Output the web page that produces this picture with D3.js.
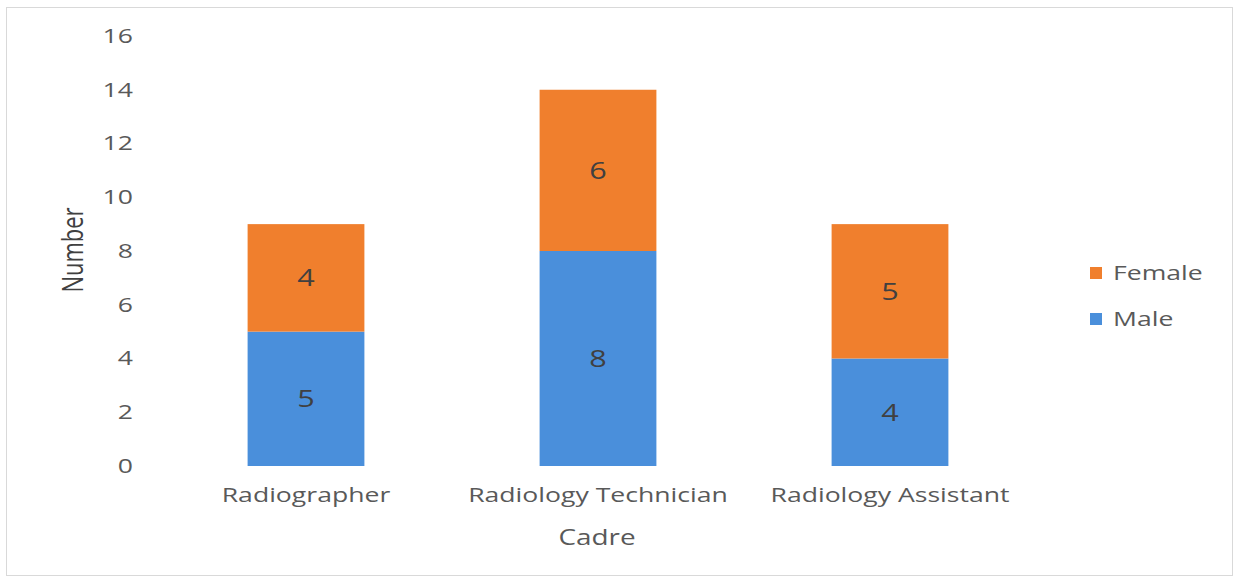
<!DOCTYPE html>
<html><head><meta charset="utf-8">
<script src="https://cdn.jsdelivr.net/npm/d3@7"></script>
<style>body{margin:0;background:#fff}svg{display:block}</style>
</head><body>
<script>
const categories = ["Radiographer", "Radiology Technician", "Radiology Assistant"];
const male = [5, 8, 4];
const female = [4, 6, 5];
const seriesNames = ["Male", "Female"];
const yTicks = [0, 2, 4, 6, 8, 10, 12, 14, 16];
const colors = {Male: "#4a8fdb", Female: "#f07f2d"};

const W = 1236, H = 579;
const SX = 1.33;
const svg = d3.select("body").append("svg").attr("width", W).attr("height", H);
svg.append("rect").attr("x", 6.5).attr("y", 7.5).attr("width", 1226).attr("height", 568)
  .attr("fill", "#fff").attr("stroke", "#d9d9d9");

const font = "'Open Sans', 'Liberation Sans', sans-serif";
const x = d3.scaleBand().domain(categories).range([160, 1036]).paddingInner(0.6).paddingOuter(0.3);
const y = d3.scaleLinear().domain([0, 16]).range([466, 36]);

const rows = categories.map((c, i) => ({cat: c, Male: male[i], Female: female[i]}));
const stacked = d3.stack().keys(seriesNames)(rows);

const g = svg.append("g");
stacked.forEach(s => {
  g.selectAll(null).data(s).join("rect")
    .attr("x", d => x(d.data.cat)).attr("width", x.bandwidth())
    .attr("y", d => y(d[1])).attr("height", d => y(d[0]) - y(d[1]))
    .attr("fill", colors[s.key]);
  g.selectAll(null).data(s).join("text")
    .attr("transform", d => `translate(${x(d.data.cat) + x.bandwidth() / 2},${(y(d[0]) + y(d[1])) / 2}) scale(${SX},1)`)
    .attr("dy", "0.36em").attr("text-anchor", "middle")
    .attr("font-family", font).attr("font-size", 23).attr("fill", "#404040")
    .text(d => d[1] - d[0]);
});

const yAxis = d3.axisLeft(y).tickValues(yTicks).tickSize(0).tickPadding(0);
const ya = svg.append("g").attr("transform", "translate(133,0)").call(yAxis);
ya.select(".domain").remove();
ya.selectAll("text").attr("x", 0).attr("transform", `scale(${SX},1)`)
  .attr("font-family", font).attr("font-size", 20).attr("fill", "#595959");

const xAxis = d3.axisBottom(x).tickSize(0).tickPadding(0);
const xa = svg.append("g").attr("transform", "translate(0,488)").call(xAxis);
xa.select(".domain").remove();
xa.selectAll("text").attr("y", 0).attr("transform", `scale(${SX},1)`)
  .attr("font-family", font).attr("font-size", 20).attr("fill", "#595959").attr("dy", "0.71em");

svg.append("text").attr("transform", `translate(83,250) rotate(-90) scale(1,${SX})`).attr("text-anchor", "middle")
  .attr("font-family", font).attr("font-size", 22).attr("fill", "#404040").text("Number");
svg.append("text").attr("transform", `translate(597,545) scale(${SX},1)`).attr("text-anchor", "middle")
  .attr("font-family", font).attr("font-size", 21).attr("fill", "#595959").text("Cadre");

const legendItems = ["Female", "Male"];
const lg = svg.append("g");
legendItems.forEach((k, i) => {
  const yy = 273 + i * 46;
  lg.append("rect").attr("x", 1090).attr("y", yy - 6).attr("width", 12).attr("height", 12).attr("fill", colors[k]);
  lg.append("text").attr("transform", `translate(1113,${yy}) scale(${SX},1)`).attr("dy", "0.36em")
    .attr("font-family", font).attr("font-size", 20).attr("fill", "#595959").text(k);
});
</script>
</body></html>
